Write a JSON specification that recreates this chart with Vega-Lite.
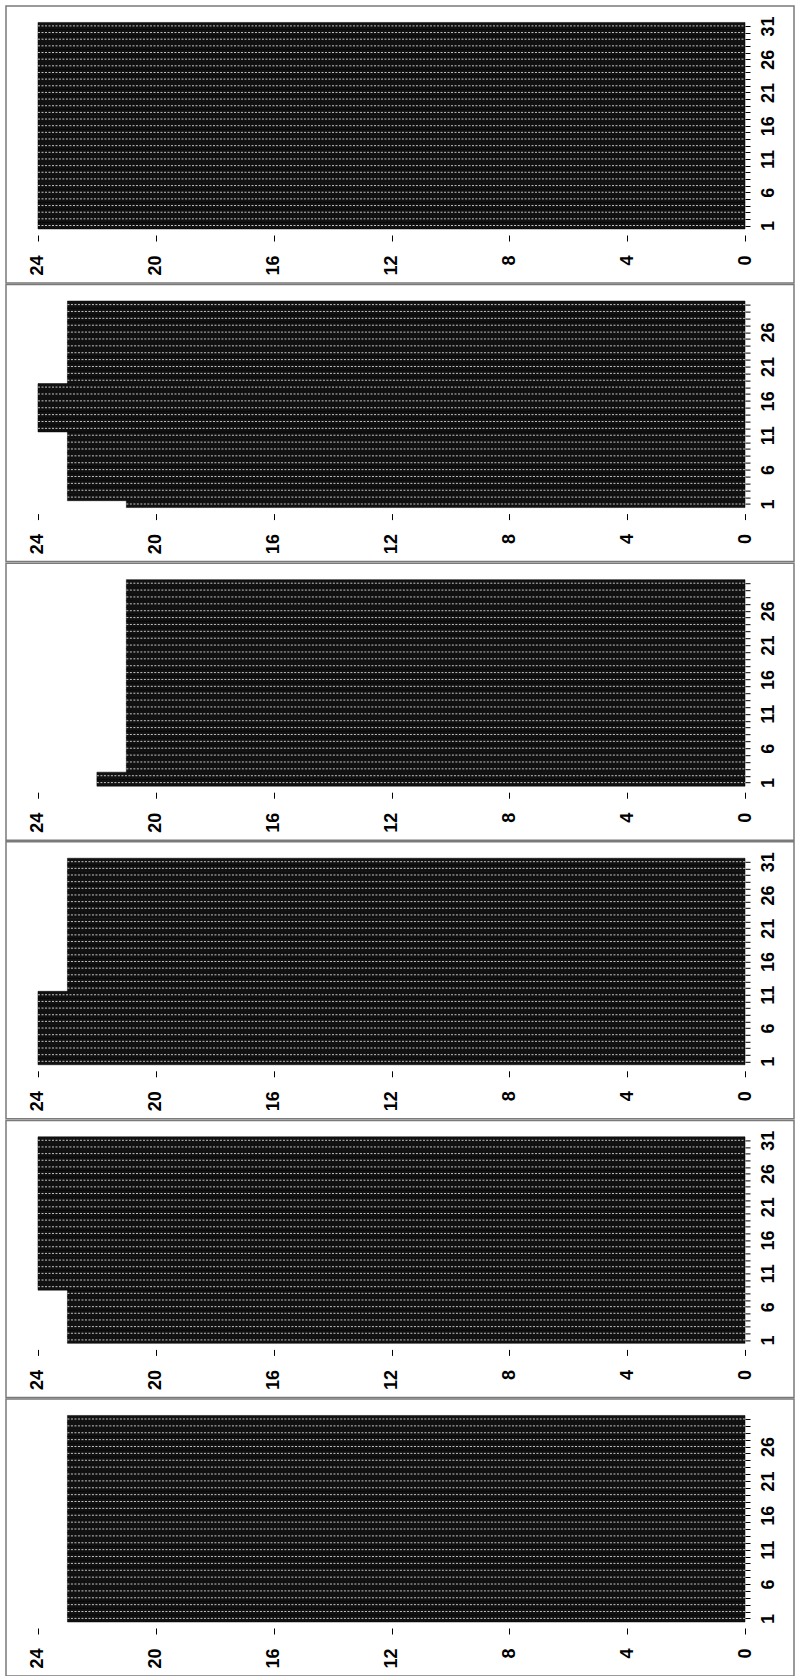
{
  "$schema": "https://vega.github.io/schema/vega-lite/v6.json",
  "padding": {"left": 5, "top": 5, "right": 0, "bottom": 0},
  "spacing": 1.6,
  "bounds": "flush",
  "background": "white",
  "config": {
    "view": {"stroke": "#7a7a7a", "strokeWidth": 1.5},
    "axis": {"labelFont": "Liberation Sans", "labelFontWeight": "bold", "labelFontSize": 18, "labelColor": "#000", "tickColor": "#000", "tickWidth": 1, "grid": false, "domain": false, "title": null, "labelFlush": false, "labelOverlap": false, "zindex": 1}
  },
  "datasets": {
    "p1": [{"day":1,"hours":24},{"day":2,"hours":24},{"day":3,"hours":24},{"day":4,"hours":24},{"day":5,"hours":24},{"day":6,"hours":24},{"day":7,"hours":24},{"day":8,"hours":24},{"day":9,"hours":24},{"day":10,"hours":24},{"day":11,"hours":24},{"day":12,"hours":24},{"day":13,"hours":24},{"day":14,"hours":24},{"day":15,"hours":24},{"day":16,"hours":24},{"day":17,"hours":24},{"day":18,"hours":24},{"day":19,"hours":24},{"day":20,"hours":24},{"day":21,"hours":24},{"day":22,"hours":24},{"day":23,"hours":24},{"day":24,"hours":24},{"day":25,"hours":24},{"day":26,"hours":24},{"day":27,"hours":24},{"day":28,"hours":24},{"day":29,"hours":24},{"day":30,"hours":24},{"day":31,"hours":24}],
    "p2": [{"day":1,"hours":21},{"day":2,"hours":23},{"day":3,"hours":23},{"day":4,"hours":23},{"day":5,"hours":23},{"day":6,"hours":23},{"day":7,"hours":23},{"day":8,"hours":23},{"day":9,"hours":23},{"day":10,"hours":23},{"day":11,"hours":23},{"day":12,"hours":24},{"day":13,"hours":24},{"day":14,"hours":24},{"day":15,"hours":24},{"day":16,"hours":24},{"day":17,"hours":24},{"day":18,"hours":24},{"day":19,"hours":23},{"day":20,"hours":23},{"day":21,"hours":23},{"day":22,"hours":23},{"day":23,"hours":23},{"day":24,"hours":23},{"day":25,"hours":23},{"day":26,"hours":23},{"day":27,"hours":23},{"day":28,"hours":23},{"day":29,"hours":23},{"day":30,"hours":23}],
    "p3": [{"day":1,"hours":22},{"day":2,"hours":22},{"day":3,"hours":21},{"day":4,"hours":21},{"day":5,"hours":21},{"day":6,"hours":21},{"day":7,"hours":21},{"day":8,"hours":21},{"day":9,"hours":21},{"day":10,"hours":21},{"day":11,"hours":21},{"day":12,"hours":21},{"day":13,"hours":21},{"day":14,"hours":21},{"day":15,"hours":21},{"day":16,"hours":21},{"day":17,"hours":21},{"day":18,"hours":21},{"day":19,"hours":21},{"day":20,"hours":21},{"day":21,"hours":21},{"day":22,"hours":21},{"day":23,"hours":21},{"day":24,"hours":21},{"day":25,"hours":21},{"day":26,"hours":21},{"day":27,"hours":21},{"day":28,"hours":21},{"day":29,"hours":21},{"day":30,"hours":21}],
    "p4": [{"day":1,"hours":24},{"day":2,"hours":24},{"day":3,"hours":24},{"day":4,"hours":24},{"day":5,"hours":24},{"day":6,"hours":24},{"day":7,"hours":24},{"day":8,"hours":24},{"day":9,"hours":24},{"day":10,"hours":24},{"day":11,"hours":24},{"day":12,"hours":23},{"day":13,"hours":23},{"day":14,"hours":23},{"day":15,"hours":23},{"day":16,"hours":23},{"day":17,"hours":23},{"day":18,"hours":23},{"day":19,"hours":23},{"day":20,"hours":23},{"day":21,"hours":23},{"day":22,"hours":23},{"day":23,"hours":23},{"day":24,"hours":23},{"day":25,"hours":23},{"day":26,"hours":23},{"day":27,"hours":23},{"day":28,"hours":23},{"day":29,"hours":23},{"day":30,"hours":23},{"day":31,"hours":23}],
    "p5": [{"day":1,"hours":23},{"day":2,"hours":23},{"day":3,"hours":23},{"day":4,"hours":23},{"day":5,"hours":23},{"day":6,"hours":23},{"day":7,"hours":23},{"day":8,"hours":23},{"day":9,"hours":24},{"day":10,"hours":24},{"day":11,"hours":24},{"day":12,"hours":24},{"day":13,"hours":24},{"day":14,"hours":24},{"day":15,"hours":24},{"day":16,"hours":24},{"day":17,"hours":24},{"day":18,"hours":24},{"day":19,"hours":24},{"day":20,"hours":24},{"day":21,"hours":24},{"day":22,"hours":24},{"day":23,"hours":24},{"day":24,"hours":24},{"day":25,"hours":24},{"day":26,"hours":24},{"day":27,"hours":24},{"day":28,"hours":24},{"day":29,"hours":24},{"day":30,"hours":24},{"day":31,"hours":24}],
    "p6": [{"day":1,"hours":23},{"day":2,"hours":23},{"day":3,"hours":23},{"day":4,"hours":23},{"day":5,"hours":23},{"day":6,"hours":23},{"day":7,"hours":23},{"day":8,"hours":23},{"day":9,"hours":23},{"day":10,"hours":23},{"day":11,"hours":23},{"day":12,"hours":23},{"day":13,"hours":23},{"day":14,"hours":23},{"day":15,"hours":23},{"day":16,"hours":23},{"day":17,"hours":23},{"day":18,"hours":23},{"day":19,"hours":23},{"day":20,"hours":23},{"day":21,"hours":23},{"day":22,"hours":23},{"day":23,"hours":23},{"day":24,"hours":23},{"day":25,"hours":23},{"day":26,"hours":23},{"day":27,"hours":23},{"day":28,"hours":23},{"day":29,"hours":23},{"day":30,"hours":23}]
  },
  "vconcat": [
    {"width": 788, "height": 277, "data": {"name": "p1"}, "layer": [
      {"mark": {"type": "bar", "orient": "horizontal", "height": 6.9, "fill": "#111", "stroke": "#000", "strokeWidth": 0.5},
       "encoding": {
         "y": {"field": "day", "type": "quantitative", "scale": {"domain": [-6.888, 33.238], "nice": false, "zero": false},
               "axis": {"orient": "right", "offset": -49, "values": [1,2,3,4,5,6,7,8,9,10,11,12,13,14,15,16,17,18,19,20,21,22,23,24,25,26,27,28,29,30,31], "labelAngle": -90, "labelAlign": "center", "labelBaseline": "top", "labelPadding": 9, "tickSize": 5, "labelExpr": "(datum.value - 1) % 5 == 0 ? datum.label : ''"}},
         "x": {"field": "hours", "type": "quantitative", "scale": {"domain": [-1.663, 25.086], "reverse": true, "nice": false},
               "axis": {"orient": "bottom", "offset": -48, "values": [0,4,8,12,16,20,24], "labelAngle": -90, "labelPadding": 14, "tickSize": 6}},
         "x2": {"datum": 0}}},
      {"mark": {"type": "rule", "stroke": "#fff", "strokeWidth": 1, "strokeDash": [2, 1.5], "opacity": 0.75},
       "encoding": {
         "y": {"field": "day", "type": "quantitative",
               "axis": {"orient": "right", "offset": -49, "values": [1,2,3,4,5,6,7,8,9,10,11,12,13,14,15,16,17,18,19,20,21,22,23,24,25,26,27,28,29,30,31], "labelAngle": -90, "labelAlign": "center", "labelBaseline": "top", "labelPadding": 9, "tickSize": 5, "labelExpr": "(datum.value - 1) % 5 == 0 ? datum.label : ''"}},
         "x": {"field": "hours", "type": "quantitative",
               "axis": {"orient": "bottom", "offset": -48, "values": [0,4,8,12,16,20,24], "labelAngle": -90, "labelPadding": 14, "tickSize": 6}},
         "x2": {"datum": 0}}}
    ]},
    {"width": 788, "height": 277, "data": {"name": "p2"}, "layer": [
      {"mark": {"type": "bar", "orient": "horizontal", "height": 7.13, "fill": "#111", "stroke": "#000", "strokeWidth": 0.5},
       "encoding": {
         "y": {"field": "day", "type": "quantitative", "scale": {"domain": [-6.65, 32.182], "nice": false, "zero": false},
               "axis": {"orient": "right", "offset": -49, "values": [1,2,3,4,5,6,7,8,9,10,11,12,13,14,15,16,17,18,19,20,21,22,23,24,25,26,27,28,29,30], "labelAngle": -90, "labelAlign": "center", "labelBaseline": "top", "labelPadding": 9, "tickSize": 5, "labelExpr": "(datum.value - 1) % 5 == 0 ? datum.label : ''"}},
         "x": {"field": "hours", "type": "quantitative", "scale": {"domain": [-1.663, 25.086], "reverse": true, "nice": false},
               "axis": {"orient": "bottom", "offset": -48, "values": [0,4,8,12,16,20,24], "labelAngle": -90, "labelPadding": 14, "tickSize": 6}},
         "x2": {"datum": 0}}},
      {"mark": {"type": "rule", "stroke": "#fff", "strokeWidth": 1, "strokeDash": [2, 1.5], "opacity": 0.75},
       "encoding": {
         "y": {"field": "day", "type": "quantitative",
               "axis": {"orient": "right", "offset": -49, "values": [1,2,3,4,5,6,7,8,9,10,11,12,13,14,15,16,17,18,19,20,21,22,23,24,25,26,27,28,29,30], "labelAngle": -90, "labelAlign": "center", "labelBaseline": "top", "labelPadding": 9, "tickSize": 5, "labelExpr": "(datum.value - 1) % 5 == 0 ? datum.label : ''"}},
         "x": {"field": "hours", "type": "quantitative",
               "axis": {"orient": "bottom", "offset": -48, "values": [0,4,8,12,16,20,24], "labelAngle": -90, "labelPadding": 14, "tickSize": 6}},
         "x2": {"datum": 0}}}
    ]},
    {"width": 788, "height": 277, "data": {"name": "p3"}, "layer": [
      {"mark": {"type": "bar", "orient": "horizontal", "height": 7.13, "fill": "#111", "stroke": "#000", "strokeWidth": 0.5},
       "encoding": {
         "y": {"field": "day", "type": "quantitative", "scale": {"domain": [-6.65, 32.182], "nice": false, "zero": false},
               "axis": {"orient": "right", "offset": -49, "values": [1,2,3,4,5,6,7,8,9,10,11,12,13,14,15,16,17,18,19,20,21,22,23,24,25,26,27,28,29,30], "labelAngle": -90, "labelAlign": "center", "labelBaseline": "top", "labelPadding": 9, "tickSize": 5, "labelExpr": "(datum.value - 1) % 5 == 0 ? datum.label : ''"}},
         "x": {"field": "hours", "type": "quantitative", "scale": {"domain": [-1.663, 25.086], "reverse": true, "nice": false},
               "axis": {"orient": "bottom", "offset": -48, "values": [0,4,8,12,16,20,24], "labelAngle": -90, "labelPadding": 14, "tickSize": 6}},
         "x2": {"datum": 0}}},
      {"mark": {"type": "rule", "stroke": "#fff", "strokeWidth": 1, "strokeDash": [2, 1.5], "opacity": 0.75},
       "encoding": {
         "y": {"field": "day", "type": "quantitative",
               "axis": {"orient": "right", "offset": -49, "values": [1,2,3,4,5,6,7,8,9,10,11,12,13,14,15,16,17,18,19,20,21,22,23,24,25,26,27,28,29,30], "labelAngle": -90, "labelAlign": "center", "labelBaseline": "top", "labelPadding": 9, "tickSize": 5, "labelExpr": "(datum.value - 1) % 5 == 0 ? datum.label : ''"}},
         "x": {"field": "hours", "type": "quantitative",
               "axis": {"orient": "bottom", "offset": -48, "values": [0,4,8,12,16,20,24], "labelAngle": -90, "labelPadding": 14, "tickSize": 6}},
         "x2": {"datum": 0}}}
    ]},
    {"width": 788, "height": 277, "data": {"name": "p4"}, "layer": [
      {"mark": {"type": "bar", "orient": "horizontal", "height": 6.9, "fill": "#111", "stroke": "#000", "strokeWidth": 0.5},
       "encoding": {
         "y": {"field": "day", "type": "quantitative", "scale": {"domain": [-6.888, 33.238], "nice": false, "zero": false},
               "axis": {"orient": "right", "offset": -49, "values": [1,2,3,4,5,6,7,8,9,10,11,12,13,14,15,16,17,18,19,20,21,22,23,24,25,26,27,28,29,30,31], "labelAngle": -90, "labelAlign": "center", "labelBaseline": "top", "labelPadding": 9, "tickSize": 5, "labelExpr": "(datum.value - 1) % 5 == 0 ? datum.label : ''"}},
         "x": {"field": "hours", "type": "quantitative", "scale": {"domain": [-1.663, 25.086], "reverse": true, "nice": false},
               "axis": {"orient": "bottom", "offset": -48, "values": [0,4,8,12,16,20,24], "labelAngle": -90, "labelPadding": 14, "tickSize": 6}},
         "x2": {"datum": 0}}},
      {"mark": {"type": "rule", "stroke": "#fff", "strokeWidth": 1, "strokeDash": [2, 1.5], "opacity": 0.75},
       "encoding": {
         "y": {"field": "day", "type": "quantitative",
               "axis": {"orient": "right", "offset": -49, "values": [1,2,3,4,5,6,7,8,9,10,11,12,13,14,15,16,17,18,19,20,21,22,23,24,25,26,27,28,29,30,31], "labelAngle": -90, "labelAlign": "center", "labelBaseline": "top", "labelPadding": 9, "tickSize": 5, "labelExpr": "(datum.value - 1) % 5 == 0 ? datum.label : ''"}},
         "x": {"field": "hours", "type": "quantitative",
               "axis": {"orient": "bottom", "offset": -48, "values": [0,4,8,12,16,20,24], "labelAngle": -90, "labelPadding": 14, "tickSize": 6}},
         "x2": {"datum": 0}}}
    ]},
    {"width": 788, "height": 277, "data": {"name": "p5"}, "layer": [
      {"mark": {"type": "bar", "orient": "horizontal", "height": 6.9, "fill": "#111", "stroke": "#000", "strokeWidth": 0.5},
       "encoding": {
         "y": {"field": "day", "type": "quantitative", "scale": {"domain": [-6.888, 33.238], "nice": false, "zero": false},
               "axis": {"orient": "right", "offset": -49, "values": [1,2,3,4,5,6,7,8,9,10,11,12,13,14,15,16,17,18,19,20,21,22,23,24,25,26,27,28,29,30,31], "labelAngle": -90, "labelAlign": "center", "labelBaseline": "top", "labelPadding": 9, "tickSize": 5, "labelExpr": "(datum.value - 1) % 5 == 0 ? datum.label : ''"}},
         "x": {"field": "hours", "type": "quantitative", "scale": {"domain": [-1.663, 25.086], "reverse": true, "nice": false},
               "axis": {"orient": "bottom", "offset": -48, "values": [0,4,8,12,16,20,24], "labelAngle": -90, "labelPadding": 14, "tickSize": 6}},
         "x2": {"datum": 0}}},
      {"mark": {"type": "rule", "stroke": "#fff", "strokeWidth": 1, "strokeDash": [2, 1.5], "opacity": 0.75},
       "encoding": {
         "y": {"field": "day", "type": "quantitative",
               "axis": {"orient": "right", "offset": -49, "values": [1,2,3,4,5,6,7,8,9,10,11,12,13,14,15,16,17,18,19,20,21,22,23,24,25,26,27,28,29,30,31], "labelAngle": -90, "labelAlign": "center", "labelBaseline": "top", "labelPadding": 9, "tickSize": 5, "labelExpr": "(datum.value - 1) % 5 == 0 ? datum.label : ''"}},
         "x": {"field": "hours", "type": "quantitative",
               "axis": {"orient": "bottom", "offset": -48, "values": [0,4,8,12,16,20,24], "labelAngle": -90, "labelPadding": 14, "tickSize": 6}},
         "x2": {"datum": 0}}}
    ]},
    {"width": 788, "height": 277, "data": {"name": "p6"}, "layer": [
      {"mark": {"type": "bar", "orient": "horizontal", "height": 7.13, "fill": "#111", "stroke": "#000", "strokeWidth": 0.5},
       "encoding": {
         "y": {"field": "day", "type": "quantitative", "scale": {"domain": [-6.65, 32.182], "nice": false, "zero": false},
               "axis": {"orient": "right", "offset": -49, "values": [1,2,3,4,5,6,7,8,9,10,11,12,13,14,15,16,17,18,19,20,21,22,23,24,25,26,27,28,29,30], "labelAngle": -90, "labelAlign": "center", "labelBaseline": "top", "labelPadding": 9, "tickSize": 5, "labelExpr": "(datum.value - 1) % 5 == 0 ? datum.label : ''"}},
         "x": {"field": "hours", "type": "quantitative", "scale": {"domain": [-1.663, 25.086], "reverse": true, "nice": false},
               "axis": {"orient": "bottom", "offset": -48, "values": [0,4,8,12,16,20,24], "labelAngle": -90, "labelPadding": 14, "tickSize": 6}},
         "x2": {"datum": 0}}},
      {"mark": {"type": "rule", "stroke": "#fff", "strokeWidth": 1, "strokeDash": [2, 1.5], "opacity": 0.75},
       "encoding": {
         "y": {"field": "day", "type": "quantitative",
               "axis": {"orient": "right", "offset": -49, "values": [1,2,3,4,5,6,7,8,9,10,11,12,13,14,15,16,17,18,19,20,21,22,23,24,25,26,27,28,29,30], "labelAngle": -90, "labelAlign": "center", "labelBaseline": "top", "labelPadding": 9, "tickSize": 5, "labelExpr": "(datum.value - 1) % 5 == 0 ? datum.label : ''"}},
         "x": {"field": "hours", "type": "quantitative",
               "axis": {"orient": "bottom", "offset": -48, "values": [0,4,8,12,16,20,24], "labelAngle": -90, "labelPadding": 14, "tickSize": 6}},
         "x2": {"datum": 0}}}
    ]}
  ]
}
